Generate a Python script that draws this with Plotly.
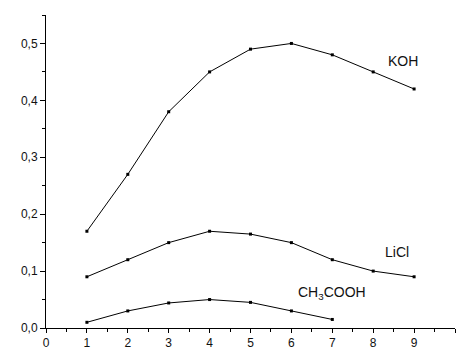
import plotly.graph_objects as go

x_koh = [1, 2, 3, 4, 5, 6, 7, 8, 9]
koh = [0.17, 0.27, 0.38, 0.45, 0.49, 0.50, 0.48, 0.45, 0.42]
x_licl = [1, 2, 3, 4, 5, 6, 7, 8, 9]
licl = [0.09, 0.12, 0.15, 0.17, 0.165, 0.15, 0.12, 0.10, 0.09]
x_ac = [1, 2, 3, 4, 5, 6, 7]
acetic = [0.01, 0.03, 0.044, 0.05, 0.045, 0.03, 0.015]

labels = [("KOH", 8.73, 0.47), ("LiCl", 8.58, 0.133), ("CH<sub>3</sub>COOH", 7.0, 0.062)]

fig = go.Figure()
for xs, ys in [(x_koh, koh), (x_licl, licl), (x_ac, acetic)]:
    fig.add_trace(go.Scatter(x=xs, y=ys, mode="lines+markers",
                             line=dict(color="black", width=1),
                             marker=dict(symbol="square", size=3, color="black"),
                             showlegend=False))
for t, lx, ly in labels:
    fig.add_annotation(x=lx, y=ly, text=t, showarrow=False,
                       font=dict(size=14, color="#111", family="Liberation Sans, Arial"))

fig.update_layout(
    width=456, height=347,
    margin=dict(l=46, r=1, t=15, b=19),
    paper_bgcolor="white", plot_bgcolor="white",
    separators=",.",
    font=dict(family="Liberation Sans, Arial", size=12, color="#111"),
    xaxis=dict(range=[0, 10], tickmode="linear", tick0=0, dtick=1, automargin=False,
               showgrid=False, zeroline=False, showline=True, linecolor="black", linewidth=1,
               ticks="outside", ticklen=4, tickcolor="black", ticklabelstandoff=0,
               minor=dict(dtick=0.5, ticks="outside", ticklen=3, tickcolor="black", showgrid=False)),
    yaxis=dict(range=[0, 0.55], tickmode="linear", tick0=0, dtick=0.1, tickformat=".1f",
               automargin=False,
               showgrid=False, zeroline=False, showline=True, linecolor="black", linewidth=1,
               ticks="outside", ticklen=5, tickcolor="black",
               minor=dict(dtick=0.05, ticks="outside", ticklen=3, tickcolor="black", showgrid=False)),
)
fig.write_html("out.html", config={"displayModeBar": False},
               post_script="document.body.style.margin='0';")
